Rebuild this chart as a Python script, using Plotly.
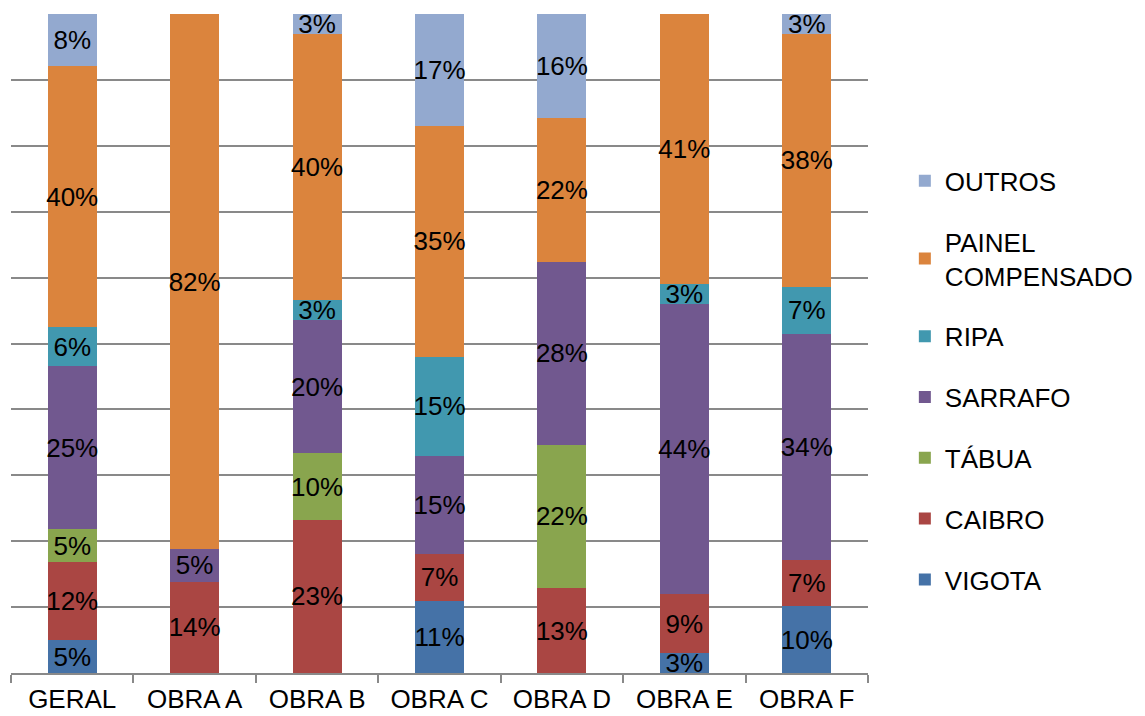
import plotly.graph_objects as go

categories = ["GERAL", "OBRA A", "OBRA B", "OBRA C", "OBRA D", "OBRA E", "OBRA F"]

# Share of each timber item per site (%), bottom to top of each stack
vigota = [5, None, None, 11, None, 3, 10]
caibro = [12, 14, 23, 7, 13, 9, 7]
tabua = [5, None, 10, None, 22, None, None]
sarrafo = [25, 5, 20, 15, 28, 44, 34]
ripa = [6, None, 3, 15, None, 3, 7]
painel = [40, 82, 40, 35, 22, 41, 38]
outros = [8, None, 3, 17, 16, None, 3]

series = [
    ("VIGOTA", vigota, "#4572A7"),
    ("CAIBRO", caibro, "#AA4643"),
    ("TÁBUA", tabua, "#89A54E"),
    ("SARRAFO", sarrafo, "#71588F"),
    ("RIPA", ripa, "#4198AF"),
    ("PAINEL<br>COMPENSADO", painel, "#DB843D"),
    ("OUTROS", outros, "#93A9CF"),
]

FONT = "Liberation Sans, Arial, sans-serif"
SIZE = 26

fig = go.Figure()
for i, (name, values, color) in enumerate(series):
    fig.add_trace(go.Bar(
        x=categories,
        y=values,
        name=name,
        legendgroup=name,
        legendrank=len(series) - i,  # top of the stack listed first
        marker=dict(color=color, line=dict(width=0)),
        text=[f"{v}%" if v is not None else "" for v in values],
        textposition="inside",
        insidetextanchor="middle",
        textangle=0,
        textfont=dict(family=FONT, size=SIZE, color="black"),
        hoverinfo="skip",
    ))

fig.update_layout(
    barmode="stack",
    barnorm="percent",
    bargap=0.6,
    width=1145,
    height=716,
    margin=dict(l=11, r=277, t=14, b=43, autoexpand=False),
    paper_bgcolor="white",
    plot_bgcolor="white",
    font=dict(family=FONT, size=SIZE, color="black"),
    uniformtext=dict(minsize=SIZE, mode="show"),
    legend=dict(
        traceorder="grouped",
        tracegroupgap=24,
        x=1.043,
        xanchor="left",
        y=0.444,
        yanchor="middle",
        font=dict(family=FONT, size=SIZE, color="black"),
        bgcolor="rgba(0,0,0,0)",
    ),
    xaxis=dict(
        automargin=False,
        showline=True,
        linecolor="#898989",
        linewidth=1.5,
        ticks="outside",
        tickson="boundaries",
        ticklen=8,
        tickwidth=1.5,
        tickcolor="#898989",
        ticklabelstandoff=2,
        tickfont=dict(family=FONT, size=SIZE, color="black"),
        showgrid=False,
    ),
    yaxis=dict(
        automargin=False,
        range=[0, 100],
        dtick=10,
        showgrid=True,
        gridcolor="#898989",
        gridwidth=1.5,
        showticklabels=False,
        zeroline=False,
        showline=False,
        ticks="",
    ),
)

fig.write_html("out.html")
